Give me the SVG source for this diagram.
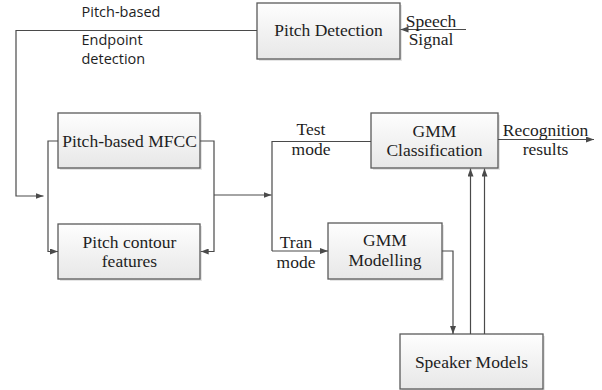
<svg xmlns="http://www.w3.org/2000/svg" width="602" height="390" viewBox="0 0 602 390">
  <style>
    .box { fill: url(#boxFill); stroke: #5a5a5a; stroke-width: 1.3; }
    .shadow { fill: #cfcfcf; opacity: 0.55; }
    .lbl { font-family: "Liberation Serif", "Times New Roman", serif; font-size: 17.5px; fill: #1e1e1e; text-anchor: middle; }
    .note { font-family: "Open Sans", "Noto Sans", sans-serif; font-size: 14.5px; fill: #1e1e1e; }
    .wire { fill: none; stroke: #4a4a4a; stroke-width: 1.2; }
    .arr { marker-end: url(#tip); }
  </style>
  <defs>
    <linearGradient id="boxFill" x1="0" y1="0" x2="0" y2="1">
      <stop offset="0" stop-color="#fefefe"/>
      <stop offset="1" stop-color="#e7e7e7"/>
    </linearGradient>
    <marker id="tip" viewBox="0 0 8 6" refX="8" refY="3" markerWidth="8" markerHeight="6" markerUnits="userSpaceOnUse" orient="auto">
      <path d="M0,0 L8,3 L0,6 z" fill="#4a4a4a"/>
    </marker>
  </defs>

  <rect width="602" height="390" fill="#ffffff"/>

  <g id="pitch-detection">
    <rect class="shadow" x="259" y="5" width="143" height="56"/>
    <rect class="box" x="257" y="3" width="143" height="56"/>
    <text class="lbl" x="328.5" y="36">Pitch Detection</text>
  </g>

  <g id="pitch-mfcc">
    <rect class="shadow" x="60" y="115" width="142" height="55"/>
    <rect class="box" x="58" y="113" width="142" height="55"/>
    <text class="lbl" x="129.5" y="146.5">Pitch-based MFCC</text>
  </g>

  <g id="pitch-contour">
    <rect class="shadow" x="60" y="226" width="142" height="55"/>
    <rect class="box" x="58" y="224" width="142" height="55"/>
    <text class="lbl" x="129.5" y="247.5">Pitch contour</text>
    <text class="lbl" x="129.5" y="267">features</text>
  </g>

  <g id="gmm-classification">
    <rect class="shadow" x="373" y="115" width="127" height="55"/>
    <rect class="box" x="371" y="113" width="127" height="55"/>
    <text class="lbl" x="434.5" y="137">GMM</text>
    <text class="lbl" x="434.5" y="156">Classification</text>
  </g>

  <g id="gmm-modelling">
    <rect class="shadow" x="330" y="225" width="114" height="56"/>
    <rect class="box" x="328" y="223" width="114" height="56"/>
    <text class="lbl" x="385" y="245.5">GMM</text>
    <text class="lbl" x="385" y="265.5">Modelling</text>
  </g>

  <g id="speaker-models">
    <rect class="shadow" x="402" y="336" width="143" height="55"/>
    <rect class="box" x="400" y="334" width="143" height="55"/>
    <text class="lbl" x="471.5" y="367.5">Speaker Models</text>
  </g>

  <g id="connectors">
    <!-- speech input -->
    <line class="wire arr" x1="466" y1="29.5" x2="400.5" y2="29.5"/>
    <!-- endpoint detection feedback -->
    <polyline class="wire arr" points="257,30.5 16,30.5 16,196 43.5,196"/>
    <!-- left bracket into contour features -->
    <polyline class="wire arr" points="58,141 48,141 48,251.5 58,251.5"/>
    <!-- right bracket into contour features -->
    <polyline class="wire arr" points="200,141 214,141 214,251.5 200.7,251.5"/>
    <!-- features to mode switch -->
    <line class="wire arr" x1="214" y1="195" x2="271.5" y2="195"/>
    <!-- mode switch -->
    <polyline class="wire" points="371,141.5 272,141.5 272,251"/>
    <line class="wire arr" x1="272" y1="251" x2="328" y2="251"/>
    <!-- recognition output -->
    <line class="wire arr" x1="498" y1="139.5" x2="594" y2="139.5"/>
    <!-- modelling to speaker models -->
    <polyline class="wire arr" points="442,251 453,251 453,334"/>
    <!-- speaker models to classification -->
    <line class="wire arr" x1="470.5" y1="334" x2="470.5" y2="168.5"/>
    <line class="wire arr" x1="484.5" y1="334" x2="484.5" y2="168.5"/>
  </g>

  <g id="labels">
    <text class="note" x="81.5" y="17">Pitch-based</text>
    <text class="note" x="81.5" y="45">Endpoint</text>
    <text class="note" x="81.5" y="64">detection</text>
    <text class="lbl" x="431" y="26.5">Speech</text>
    <text class="lbl" x="431" y="45">Signal</text>
    <text class="lbl" x="311" y="134.5">Test</text>
    <text class="lbl" x="311" y="154.5">mode</text>
    <text class="lbl" x="296" y="248">Tran</text>
    <text class="lbl" x="296" y="268">mode</text>
    <text class="lbl" x="545.5" y="136">Recognition</text>
    <text class="lbl" x="545.5" y="155">results</text>
  </g>
</svg>
